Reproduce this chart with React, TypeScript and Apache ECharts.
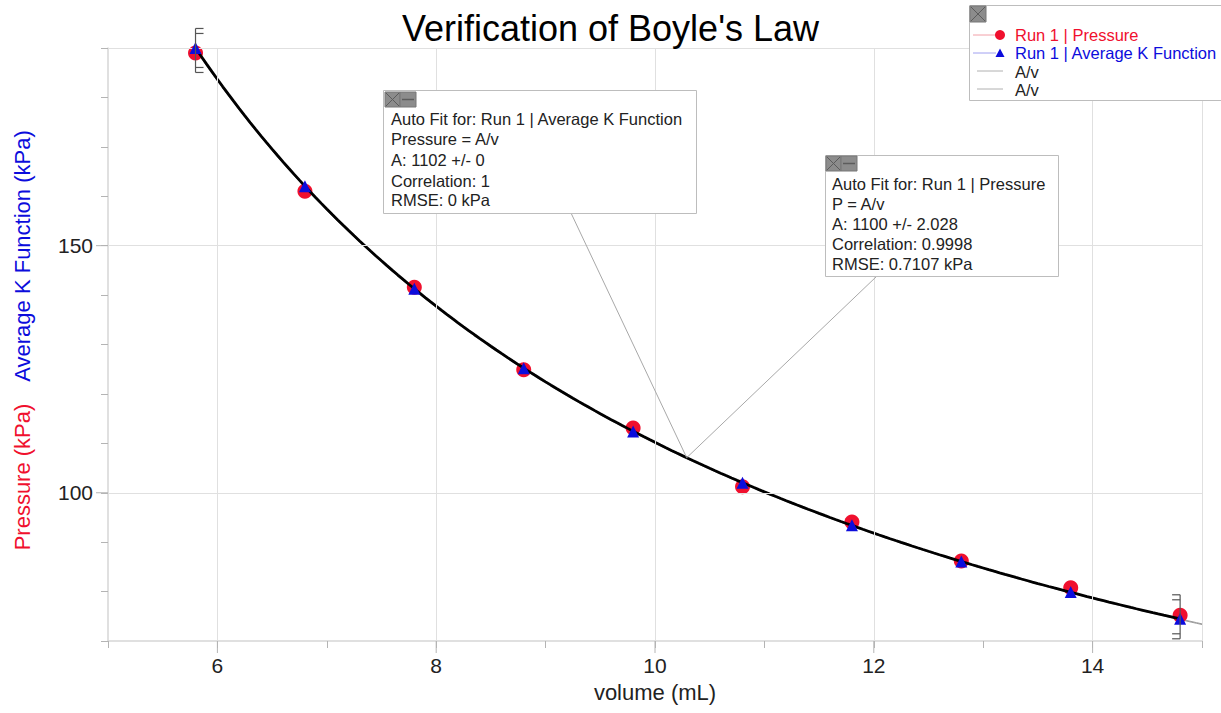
import React, { useEffect, useRef } from 'react';
import * as echarts from 'echarts';

// ---------- data ----------
const VOLUME = [5.8, 6.8, 7.8, 8.8, 9.8, 10.8, 11.8, 12.8, 13.8, 14.8];
const PRESSURE = [189.0, 161.0, 141.6, 124.9, 113.1, 101.2, 94.1, 86.2, 80.8, 75.2];
const AVG_K = [190.0, 162.0, 141.3, 125.2, 112.4, 102.0, 93.4, 86.1, 79.9, 74.5];
const FIT_A_PRESSURE = 1100;
const FIT_A_AVGK = 1102;
const FIT_RANGE = [5.8, 14.8];
const FIT_EXTENT = [5.75, 15];
const X_TICK_LABELS = [6, 8, 10, 12, 14];
const Y_TICK_LABELS = [100, 150];
const X_GRID = [6, 8, 10, 12, 14, 15];
const Y_GRID = [100, 150, 190];
const BRACKETS = [
  [5.8, 189.5, 1],
  [14.8, 74.9, -1],
];
const LEADER_V = 10.29;

const FONT = "'Liberation Sans', Arial, Helvetica, sans-serif";
const RED = '#f0102e';
const BLUE = '#0c0cdc';
const NOTE_SIZE = 16.5;

function fitCurve(A: number, from: number, to: number) {
  const pts: number[][] = [];
  const n = Math.round((to - from) / 0.05);
  for (let i = 0; i <= n; i++) {
    const v = from + ((to - from) * i) / n;
    pts.push([v, A / v]);
  }
  return pts;
}

function txt(text: string, x: number, y: number, fill = '#222', size = NOTE_SIZE) {
  return {
    type: 'text',
    x,
    y,
    silent: true,
    z: 100,
    style: {
      text,
      fill,
      font: `${size}px ${FONT}`,
      textAlign: 'left',
      textVerticalAlign: 'middle',
      align: 'left',
      verticalAlign: 'middle',
    },
  };
}

function ln(x1: number, y1: number, x2: number, y2: number, stroke: string, lineWidth = 1, z = 100) {
  return { type: 'line', silent: true, z, shape: { x1, y1, x2, y2 }, style: { stroke, lineWidth } };
}

function iconX(x: number, y: number, w: number, h: number) {
  return [
    { type: 'rect', silent: true, z: 101, shape: { x, y, width: w, height: h }, style: { fill: '#8c8c8c', stroke: '#777', lineWidth: 1 } },
    ln(x + 1, y + 1, x + w - 1, y + h - 1, '#5c5c5c', 1, 102),
    ln(x + w - 1, y + 1, x + 1, y + h - 1, '#5c5c5c', 1, 102),
  ];
}

function iconMinus(x: number, y: number, w: number, h: number) {
  return [
    { type: 'rect', silent: true, z: 101, shape: { x, y, width: w, height: h }, style: { fill: '#8c8c8c', stroke: '#777', lineWidth: 1 } },
    ln(x + 2, y + h / 2, x + w - 2, y + h / 2, '#5c5c5c', 1.5, 102),
  ];
}

function box(x: number, y: number, w: number, h: number) {
  return { type: 'rect', silent: true, z: 99, shape: { x, y, width: w, height: h }, style: { fill: '#fff', stroke: '#bdbdbd', lineWidth: 1 } };
}

function buildGraphic(anchor: number[]) {
  const [ax, ay] = anchor;
  const els: any[] = [];
  // leader lines
  els.push(ln(571, 213, ax, ay, '#a8a8a8', 1, 90));
  els.push(ln(877, 276, ax, ay, '#a8a8a8', 1, 90));

  // annotation box 1
  els.push(box(383.5, 90.5, 313, 123));
  els.push(...iconX(385, 92, 15, 15), ...iconMinus(400, 92, 16, 15));
  els.push(txt('Auto Fit for: Run 1 | Average K Function', 391, 119));
  els.push(txt('Pressure = A/v', 391, 139));
  els.push(txt('A: 1102 +/- 0', 391, 160));
  els.push(txt('Correlation: 1', 391, 181));
  els.push(txt('RMSE: 0 kPa', 391, 200));

  // annotation box 2
  els.push(box(825.5, 155.5, 233, 121));
  els.push(...iconX(826, 156, 15, 15), ...iconMinus(841, 156, 16, 15));
  els.push(txt('Auto Fit for: Run 1 | Pressure', 832, 184));
  els.push(txt('P = A/v', 832, 204));
  els.push(txt('A: 1100 +/- 2.028', 832, 224));
  els.push(txt('Correlation: 0.9998', 832, 244));
  els.push(txt('RMSE: 0.7107 kPa', 832, 264));

  // legend box
  els.push(box(969.5, 5.5, 270, 95));
  els.push(...iconX(970, 6, 16, 16));
  els.push(ln(973, 35, 996, 35, '#f2a0a8', 1));
  els.push({ type: 'circle', silent: true, z: 101, shape: { cx: 1000, cy: 35, r: 5 }, style: { fill: RED } });
  els.push(txt('Run 1 | Pressure', 1015, 35, RED));
  els.push(ln(973, 53, 996, 53, '#a0a0f0', 1));
  els.push({ type: 'polygon', silent: true, z: 101, shape: { points: [[1000, 48.5], [995.5, 57], [1004.5, 57]] }, style: { fill: BLUE } });
  els.push(txt('Run 1 | Average K Function', 1015, 53, BLUE));
  els.push(ln(977, 71, 1003, 71, '#b0b0b0', 1));
  els.push(txt('A/v', 1015, 72, '#222'));
  els.push(ln(977, 89, 1003, 89, '#b0b0b0', 1));
  els.push(txt('A/v', 1015, 90, '#222'));

  // y axis title (two colours)
  const yt = (text: string, y: number, fill: string) => ({
    type: 'text',
    x: 22,
    y,
    rotation: Math.PI / 2,
    silent: true,
    style: {
      text,
      fill,
      font: `22px ${FONT}`,
      textAlign: 'center',
      textVerticalAlign: 'middle',
      align: 'center',
      verticalAlign: 'middle',
    },
  });
  els.push(yt('Pressure (kPa)', 477, RED));
  els.push(yt('Average K Function (kPa)', 256, BLUE));
  return els;
}

const axisLabelStyle = { fontSize: 21, color: '#222', fontFamily: FONT };

const option: any = {
  animation: false,
  backgroundColor: '#fff',
  title: {
    text: "Verification of Boyle's Law",
    left: 'center',
    top: 5,
    textStyle: { fontSize: 36, fontWeight: 'normal', color: '#000', fontFamily: FONT },
  },
  grid: { left: 108, right: 19, top: 48, bottom: 72, containLabel: false },
  xAxis: {
    type: 'value',
    min: 5,
    max: 15,
    interval: 1,
    name: 'volume (mL)',
    nameLocation: 'middle',
    nameGap: 40,
    nameTextStyle: { fontSize: 22, color: '#222', fontFamily: FONT },
    axisLine: { onZero: false, lineStyle: { color: '#d6d6d6', width: 1.5 } },
    axisTick: { show: true, length: 7, lineStyle: { color: '#b4b4b4' } },
    axisLabel: {
      ...axisLabelStyle,
      margin: 14,
      formatter: (v: number) => (X_TICK_LABELS.includes(v) ? String(v) : ''),
    },
    splitLine: { show: false },
  },
  yAxis: {
    type: 'value',
    min: 70,
    max: 190,
    interval: 10,
    axisLine: { show: true, onZero: false, lineStyle: { color: '#d6d6d6', width: 1.5 } },
    axisTick: { show: true, length: 7, lineStyle: { color: '#b4b4b4' } },
    axisLabel: {
      ...axisLabelStyle,
      margin: 15,
      formatter: (v: number) => (Y_TICK_LABELS.includes(v) ? String(v) : ''),
    },
    splitLine: { show: false },
  },
  series: [
    {
      name: 'A/v pressure fit',
      type: 'line',
      data: fitCurve(FIT_A_PRESSURE, FIT_EXTENT[0], FIT_EXTENT[1]),
      showSymbol: false,
      symbol: 'none',
      lineStyle: { color: '#9a9a9a', width: 1 },
      silent: true,
      z: 1,
      markLine: {
        silent: true,
        symbol: ['none', 'none'],
        label: { show: false },
        lineStyle: { color: '#e0e0e0', width: 1, type: 'solid' },
        emphasis: { disabled: true },
        data: [...Y_GRID.map((v) => ({ yAxis: v })), ...X_GRID.map((v) => ({ xAxis: v }))],
      },
    },
    {
      name: 'A/v avg fit',
      type: 'line',
      data: fitCurve(FIT_A_AVGK, FIT_EXTENT[0], FIT_EXTENT[1]),
      showSymbol: false,
      symbol: 'none',
      lineStyle: { color: '#9a9a9a', width: 1 },
      silent: true,
      z: 1,
    },
    {
      name: 'major ticks',
      type: 'custom',
      silent: true,
      clip: false,
      z: 2,
      data: [...X_TICK_LABELS.map((v) => [0, v]), ...Y_TICK_LABELS.map((v) => [1, v])],
      renderItem: (params: any, api: any) => {
        const kind = api.value(0);
        const v = api.value(1);
        if (kind === 0) {
          const p = api.coord([v, 70]);
          return { type: 'line', shape: { x1: p[0], y1: p[1], x2: p[0], y2: p[1] + 12 }, style: { stroke: '#b4b4b4', lineWidth: 1 } };
        }
        const p = api.coord([5, v]);
        return { type: 'line', shape: { x1: p[0] - 12, y1: p[1], x2: p[0], y2: p[1] }, style: { stroke: '#b4b4b4', lineWidth: 1 } };
      },
    },
    {
      name: 'Run 1 | Pressure',
      type: 'scatter',
      data: VOLUME.map((v, i) => [v, PRESSURE[i]]),
      symbol: 'circle',
      symbolSize: 15,
      itemStyle: { color: RED, opacity: 1 },
      z: 3,
    },
    {
      name: 'fit line',
      type: 'line',
      data: fitCurve(FIT_A_AVGK, FIT_RANGE[0], FIT_RANGE[1]),
      showSymbol: false,
      symbol: 'none',
      lineStyle: { color: '#000', width: 2.8 },
      silent: true,
      z: 4,
    },
    {
      name: 'Run 1 | Average K Function',
      type: 'scatter',
      data: VOLUME.map((v, i) => [v, AVG_K[i]]),
      symbol: 'triangle',
      symbolSize: 12,
      itemStyle: { color: BLUE, opacity: 1 },
      z: 5,
    },
    {
      name: 'brackets',
      type: 'custom',
      silent: true,
      clip: false,
      z: 6,
      data: BRACKETS,
      renderItem: (params: any, api: any) => {
        const p = api.coord([api.value(0), api.value(1)]);
        const d = api.value(2);
        const h = 22, w = 8, g = 5;
        const x = p[0], y = p[1];
        const mk = (x1: number, y1: number, x2: number, y2: number) => ({
          type: 'line',
          shape: { x1, y1, x2, y2 },
          style: { stroke: '#555', lineWidth: 1.2 },
        });
        return {
          type: 'group',
          children: [
            mk(x, y - h, x, y + h),
            mk(x, y - h, x + d * w, y - h),
            mk(x, y - h + g, x + d * w, y - h + g),
            mk(x, y + h - g, x + d * w, y + h - g),
            mk(x, y + h, x + d * w, y + h),
          ],
        };
      },
    },
  ],
};

export default function App() {
  const ref = useRef<HTMLDivElement>(null);
  useEffect(() => {
    const chart = echarts.init(ref.current!, null, { renderer: 'svg' });
    chart.setOption(option);
    const anchor = chart.convertToPixel({ xAxisIndex: 0, yAxisIndex: 0 }, [LEADER_V, FIT_A_AVGK / LEADER_V]) as number[];
    chart.setOption({ graphic: buildGraphic(anchor) });
    return () => chart.dispose();
  }, []);
  return (
    <div
      ref={ref}
      style={{ position: 'fixed', left: 0, top: 0, width: 1221, height: 713, background: '#fff' }}
    />
  );
}
